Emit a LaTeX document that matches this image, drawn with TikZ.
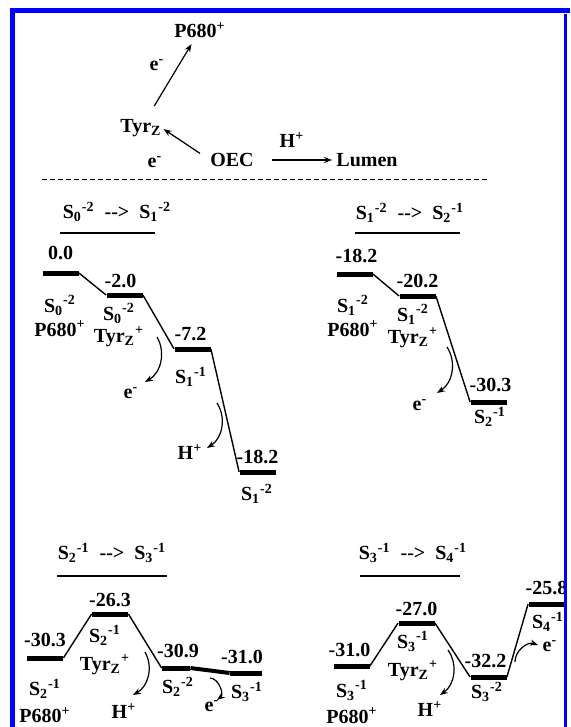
\documentclass[tikz,border=0pt]{standalone}
\usepackage{fontspec}
\setmainfont{Liberation Serif}
\usetikzlibrary{arrows.meta,positioning}
\definecolor{FrameBlue}{HTML}{0000FF}
\newcommand{\St}[2]{S\textsubscript{#1}\textsuperscript{#2}}
\newcommand{\Tyr}[1]{Tyr\textsubscript{Z}\textsuperscript{#1}}
\newcommand{\chg}[2]{#1\textsuperscript{#2}}

\begin{document}
\begin{tikzpicture}[x=0.5pt,y=-0.5pt,>={Stealth[length=4pt,width=3pt]},
 every node/.style={font=\bfseries,inner sep=0pt},
 lvl/.style={fill=black,minimum width=18pt,minimum height=2.5pt},
 pair/.style={align=center,font=\bfseries\fontsize{10}{10}\selectfont},
 link/.style={line width=0.7pt},
 flow/.style={->,line width=0.6pt},
 uline/.style={line width=0.6pt}]
\useasboundingbox (0,0) rectangle (570,727);

% scheme on top
\node (p680) at (200,30) {P680\textsuperscript{+}};
\node (tyr) at (141,128) {Tyr\textsubscript{Z}};
\node (oec) at (232,160) {OEC};
\node (lumen) at (367,160) {Lumen};
\node (eup) at (157,65) {\chg{e}{-}};
\node (elow) at (155,162) {\chg{e}{-}};
\node (hup) at (292,140) {\chg{H}{+}};
\draw[flow,shorten <=7.5pt,shorten >=3.5pt] (tyr) -- (p680);
\draw[flow,shorten <=6pt,shorten >=1pt] (oec.west) -- (tyr.east);
\draw[flow,shorten <=9pt,shorten >=2pt] (oec.east) -- (lumen.west);
\coordinate (dl) at (42,180); \coordinate (dr) at (488,180);
\draw[line width=0.5pt,dash pattern=on 2.5pt off 1.5pt] (dl) -- (dr);

% S0 -> S1
\node (t1) at (117,212) {\St{0}{-2}\enspace-{}-{}>\enspace\St{1}{-2}};
\coordinate (u1a) at (60,233); \coordinate (u1b) at (155,233);
\draw[uline] (u1a) -- (u1b);
\node[lvl] (a0) at (60.5,273) {};
\node[lvl] (a1) at (124.5,295) {};
\node[lvl] (a2) at (192.5,349) {};
\node[lvl] (a3) at (257.5,472) {};
\draw[link] (a0.east) -- (a1.west) (a1.east) -- (a2.west) (a2.east) -- (a3.west);
\node[above=5pt of a0] (a0v) {0.0};
\node[above=2pt of a1,xshift=-2pt] (a1v) {-2.0};
\node[above=2.5pt of a2,xshift=-1pt] (a2v) {-7.2};
\node[above=2.5pt of a3] (a3v) {-18.2};
\node[pair] (a0s) at (60,316) {\St{0}{-2}\\[2pt]P680\textsuperscript{+}};
\node[pair] (a1s) at (119,325) {\St{0}{-2}\\[1pt]\Tyr{+}};
\node (a2s) at (191,377) {\St{1}{-1}};
\node (a3s) at (257,494) {\St{1}{-2}};
\node (a2e) at (131,393) {\chg{e}{-}};
\node (a3h) at (190,452) {\chg{H}{+}};
\coordinate (a2c) at (157,337); \coordinate (a2d) at (145,382);
\coordinate (a3c) at (217,403); \coordinate (a3d) at (207,448);
\draw[flow] (a2c) to[bend left=45] (a2d);
\draw[flow] (a3c) to[bend left=45] (a3d);

% S1 -> S2
\node (t2) at (410,213) {\St{1}{-2}\enspace-{}-{}>\enspace\St{2}{-1}};
\coordinate (u2a) at (355,233); \coordinate (u2b) at (460,233);
\draw[uline] (u2a) -- (u2b);
\node[lvl] (b0) at (354.5,274) {};
\node[lvl] (b1) at (417.5,296) {};
\node[lvl] (b2) at (488.5,402) {};
\draw[link] (b0.east) -- (b1.west) (b1.east) -- (b2.west);
\node[above=4pt of b0,xshift=1pt] (b0v) {-18.2};
\node[above=2.5pt of b1] (b1v) {-20.2};
\node[above=3.5pt of b2,xshift=1pt] (b2v) {-30.3};
\node[pair] (b0s) at (353,316) {\St{1}{-2}\\[2pt]P680\textsuperscript{+}};
\node[pair] (b1s) at (413,326) {\St{1}{-2}\\[1pt]\Tyr{+}};
\node (b2s) at (490,417) {\St{2}{-1}};
\node (b1e) at (420,405) {\chg{e}{-}};
\coordinate (b1c) at (447,347); \coordinate (b1d) at (437,393);
\draw[flow] (b1c) to[bend left=45] (b1d);

% S2 -> S3
\node (t3) at (112,553) {\St{2}{-1}\enspace-{}-{}>\enspace\St{3}{-1}};
\coordinate (u3a) at (57,576); \coordinate (u3b) at (167,576);
\draw[uline] (u3a) -- (u3b);
\node[lvl] (c0) at (45,658) {};
\node[lvl] (c1) at (110,614) {};
\node[lvl,minimum width=14pt] (c2) at (176,668) {};
\node[lvl,minimum width=16pt] (c3) at (246,673) {};
\draw[link] (c0.east) -- (c1.west) (c1.east) -- (c2.west);
\draw[line width=2pt] (c2.east) -- (c3.west);
\node[above=4pt of c0] (c0v) {-30.3};
\node[above=2pt of c1] (c1v) {-26.3};
\node[above=3.5pt of c2,xshift=1pt] (c2v) {-30.9};
\node[above=3pt of c3,xshift=-2pt] (c3v) {-31.0};
\node[pair] (c1s) at (105,650) {\St{2}{-1}\\[4pt]\Tyr{+}};
\node[pair] (c0s) at (45,701) {\St{2}{-1}\\[3.5pt]P680\textsuperscript{+}};
\node (c1h) at (124,711) {\chg{H}{+}};
\node (c2s) at (178,687) {\St{2}{-2}};
\node (c2e) at (212,706) {\chg{e}{-}};
\node (c3s) at (247,692) {\St{3}{-1}};
\coordinate (c1c) at (145,652); \coordinate (c1d) at (133,695);
\coordinate (c2c) at (210,678); \coordinate (c2d) at (217,700);
\draw[flow] (c1c) to[bend left=45] (c1d);
\draw[flow] (c2c) to[bend left=70] (c2d);

% S3 -> S4
\node (t4) at (413,553) {\St{3}{-1}\enspace-{}-{}>\enspace\St{4}{-1}};
\coordinate (u4a) at (360,576); \coordinate (u4b) at (460,576);
\draw[uline] (u4a) -- (u4b);
\node[lvl] (d0) at (351.5,666) {};
\node[lvl] (d1) at (416.5,623) {};
\node[lvl] (d2) at (488.5,677) {};
\node[lvl] (d3) at (546.5,604) {};
\draw[link] (d0.east) -- (d1.west) (d1.east) -- (d2.west) (d2.east) -- (d3.west);
\node[above=3pt of d0,xshift=-1pt] (d0v) {-31.0};
\node[above=2pt of d1] (d1v) {-27.0};
\node[above=3pt of d2,xshift=-1.5pt] (d2v) {-32.2};
\node[above=3pt of d3] (d3v) {-25.8};
\node[pair] (d1s) at (413,656) {\St{3}{-1}\\[4pt]\Tyr{+}};
\node[pair] (d0s) at (352,702) {\St{3}{-1}\\[3pt]P680\textsuperscript{+}};
\node (d1h) at (430,709) {\chg{H}{+}};
\node (d2s) at (487,692) {\St{3}{-2}};
\node (d3e) at (550,646) {\chg{e}{-}};
\node (d3s) at (548,622) {\St{4}{-1}};
\coordinate (d1c) at (448,650); \coordinate (d1d) at (440,695);
\coordinate (d3c) at (515,662); \coordinate (d3d) at (538,645);
\draw[flow] (d1c) to[bend left=45] (d1d);
\draw[flow] (d3c) to[bend left=55] (d3d);

% frame
\draw[FrameBlue,line width=2.5pt] (12.5,727) -- (12.5,11) -- (570,11);
\draw[FrameBlue,line width=1.5pt] (565.5,14) -- (565.5,727);
\end{tikzpicture}
\end{document}
